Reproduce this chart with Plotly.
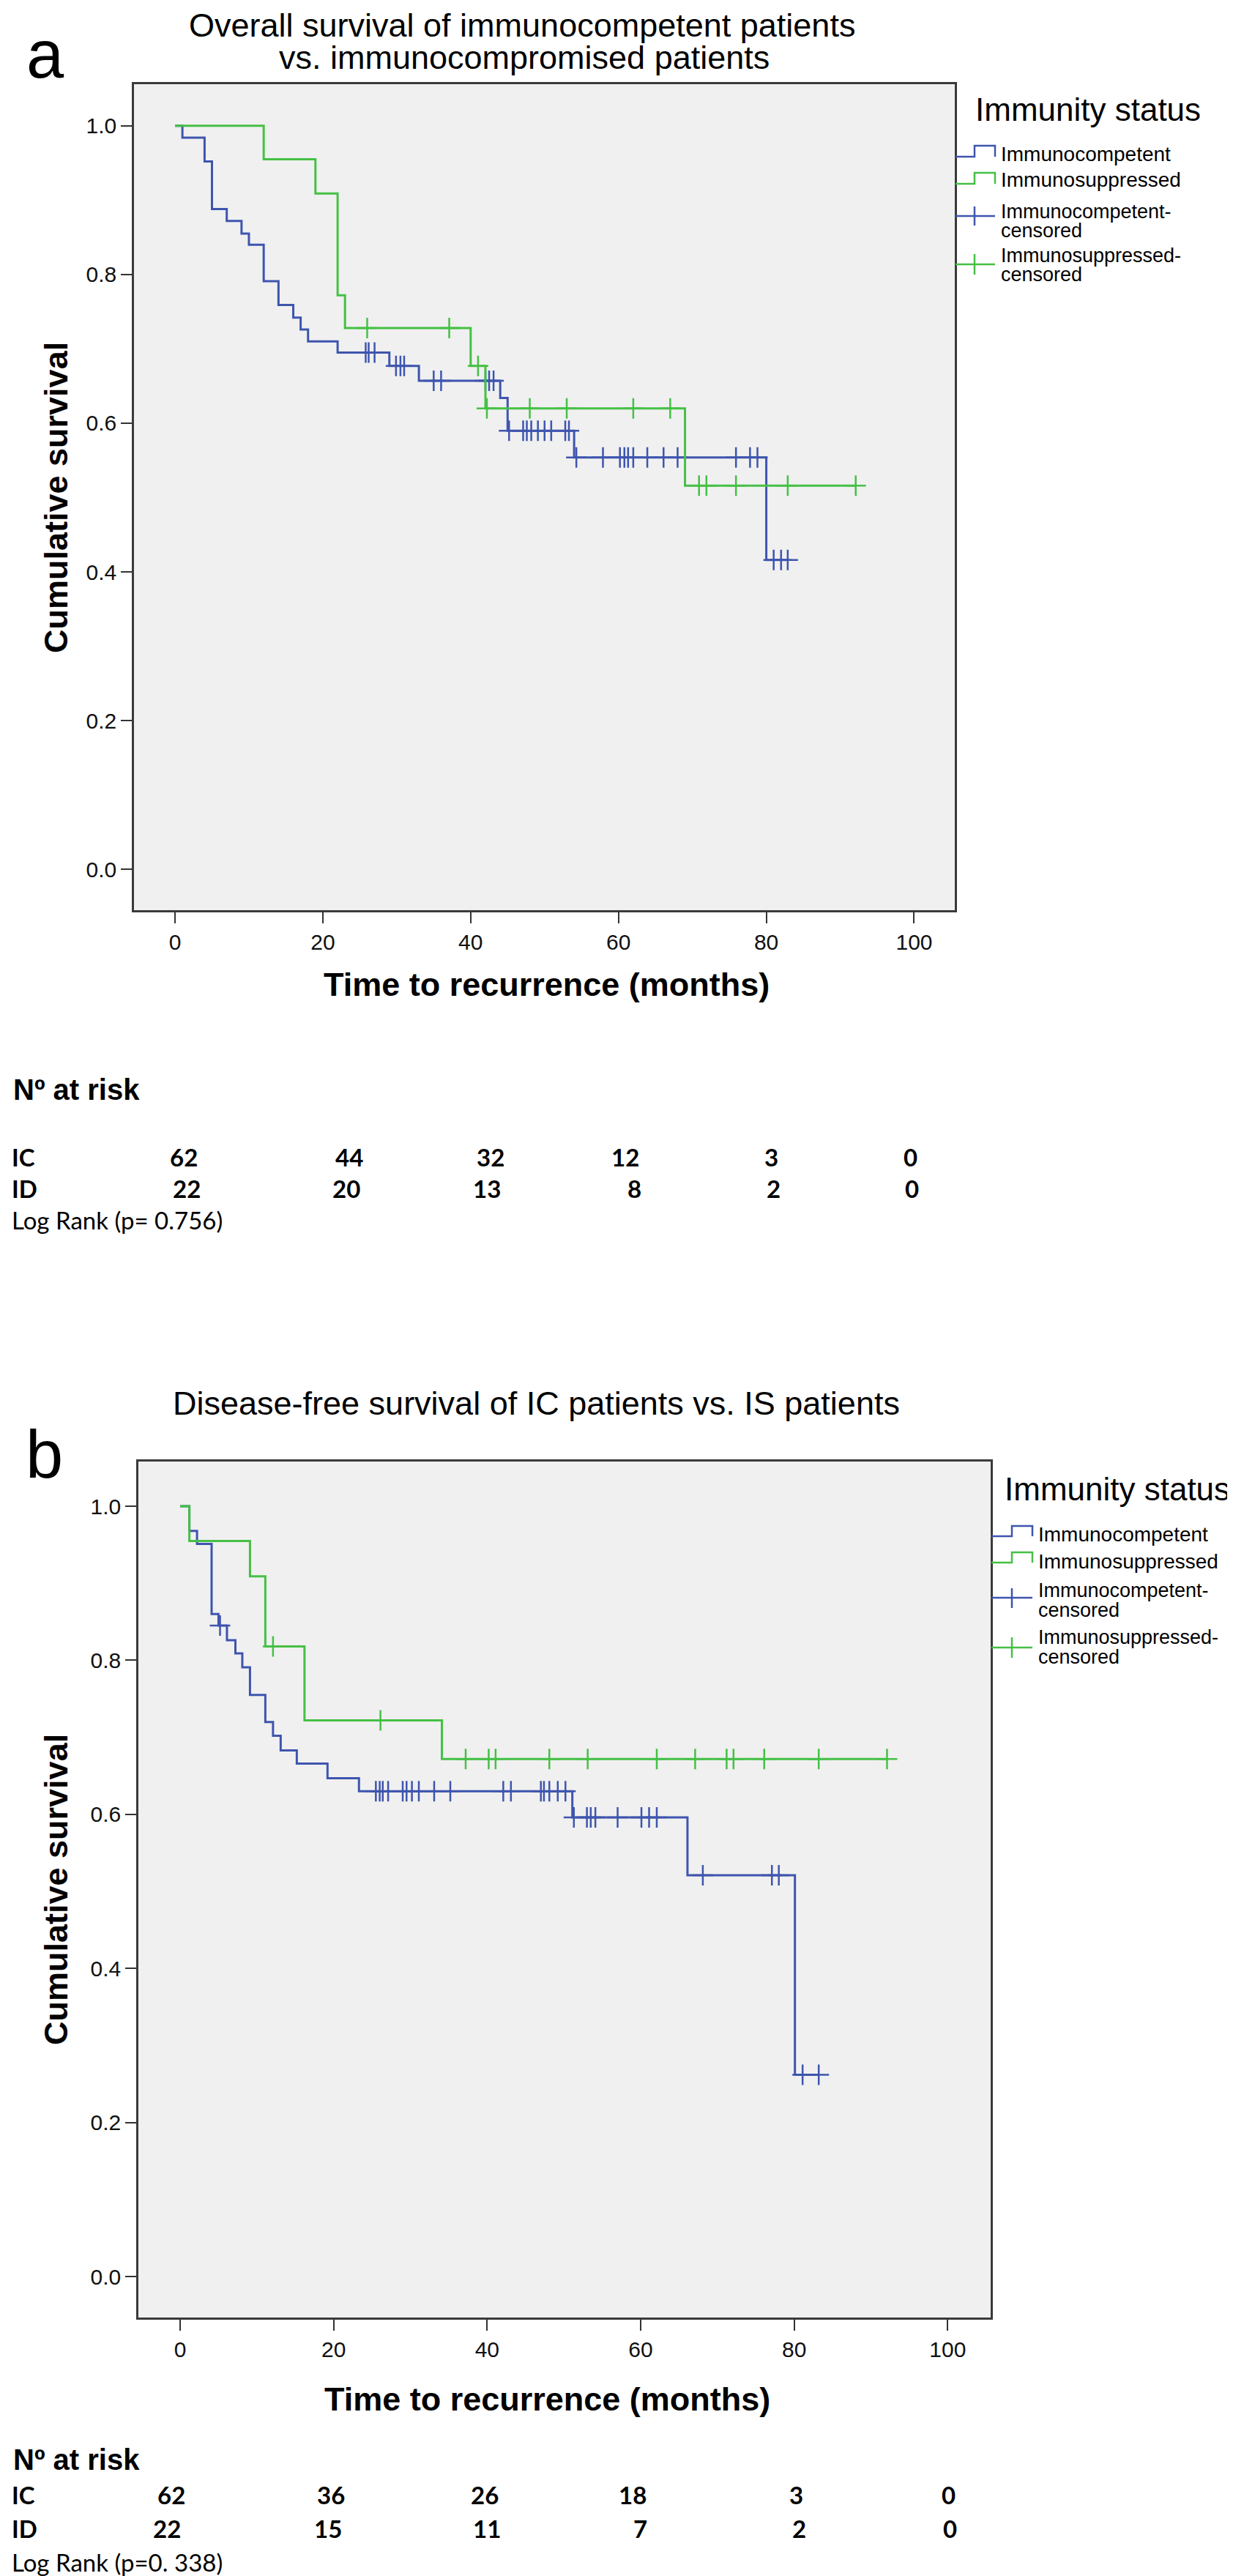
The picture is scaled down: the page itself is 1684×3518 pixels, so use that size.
import plotly.graph_objects as go

W, H = 1684, 3518

# ---------------- panel a : overall survival ----------------
a_ic_event_t = [1, 4, 5, 7, 9, 10, 12, 14, 16, 17, 18, 22, 29, 33, 44, 45, 54, 80]
a_ic_surv = [0.984, 0.952, 0.888, 0.872, 0.855, 0.840, 0.791, 0.759, 0.742, 0.726,
             0.710, 0.695, 0.677, 0.657, 0.634, 0.590, 0.554, 0.416]
a_ic_censor_t = [25.8, 26.2, 27.0, 29.9, 30.5, 31.0, 35.0, 36.0, 42.0, 42.5, 43.1,
                 45.2, 47.1, 47.6, 48.2, 49.1, 50.0, 50.9, 52.8, 53.3,
                 54.3, 57.9, 60.2, 60.8, 61.3, 62.0, 63.9, 66.1, 68.0, 75.9, 77.8, 78.8,
                 81.0, 82.0, 82.9]
a_is_event_t = [12, 19, 22, 23, 40, 42, 69]
a_is_surv = [0.955, 0.909, 0.772, 0.728, 0.677, 0.620, 0.516]
a_is_censor_t = [26.0, 37.1, 41.0, 42.2, 48.0, 53.0, 62.0, 67.0, 70.9, 71.9, 75.9, 82.9, 92.1]
a_risk_ic = [62, 44, 32, 12, 3, 0]
a_risk_id = [22, 20, 13, 8, 2, 0]
a_logrank = "Log Rank (p= 0.756)"

# ---------------- panel b : disease-free survival ----------------
b_ic_event_t = [1.2, 2.2, 4.1, 5.0, 6.1, 7.2, 8.1, 9.1, 11.1, 12.1, 13.1, 15.2, 19.2, 23.3,
                51.1, 66.1, 80.1]
b_ic_surv = [0.968, 0.951, 0.860, 0.845, 0.826, 0.809, 0.791, 0.755, 0.720, 0.702, 0.683,
             0.666, 0.647, 0.630, 0.596, 0.521, 0.262]
b_ic_censor_t = [5.2, 25.5, 26.0, 26.4, 27.1, 29.0, 29.5, 30.2, 31.1, 33.1, 35.2, 42.1, 43.1,
                 47.0, 47.4, 48.1, 49.2, 50.2, 51.3, 53.0, 53.5, 54.1, 57.0, 60.1, 61.1, 62.1,
                 68.1, 77.1, 78.0, 81.1, 83.2]
b_is_event_t = [1.2, 9.1, 11.1, 16.2, 34.1]
b_is_surv = [0.955, 0.909, 0.818, 0.722, 0.672]
b_is_censor_t = [12.1, 26.1, 37.2, 40.2, 41.1, 48.1, 53.1, 62.1, 67.1, 71.2, 72.1, 76.1,
                 83.2, 92.1]
b_risk_ic = [62, 36, 26, 18, 3, 0]
b_risk_id = [22, 15, 11, 7, 2, 0]
b_logrank = "Log Rank (p=0. 338)"

x_ticks = [0, 20, 40, 60, 80, 100]
y_ticks = [0.0, 0.2, 0.4, 0.6, 0.8, 1.0]
legend_labels = ["Immunocompetent", "Immunosuppressed",
                 ["Immunocompetent-", "censored"], ["Immunosuppressed-", "censored"]]

BLUE = "#3E55AE"
GREEN = "#45C045"
SANS = "Liberation Sans, Arial, sans-serif"
TABLE = "Lato, Open Sans, sans-serif"


def px(x):
    return x / W


def py(y):
    return 1 - y / H


def step_xy(event_t, surv, end_t):
    xs = [0] + list(event_t) + [end_t]
    ys = [1.0] + list(surv) + [surv[-1]]
    return xs, ys


def level_at(t, event_t, surv):
    # survival level of the step curve at time t (censor marks sit on the curve)
    s = 1.0
    for et, sv in zip(event_t, surv):
        if et <= t:
            s = sv
    return s


fig = go.Figure()
annotations = []
shapes = []


def ann(text, x, y, size, family=SANS, bold=False, xanchor="center", color="#000"):
    if bold:
        text = "<b>" + text + "</b>"
    annotations.append(dict(text=text, x=px(x), y=py(y), xref="paper", yref="paper",
                            xanchor=xanchor, yanchor="middle", showarrow=False,
                            font=dict(family=family, size=size, color=color)))


def add_curves(xa, ya, ev_t, surv, cens_t, color):
    end_t = max(cens_t + ev_t)
    xs, ys = step_xy(ev_t, surv, end_t)
    fig.add_trace(go.Scatter(x=xs, y=ys, mode="lines", line=dict(color=color, width=3, shape="hv"),
                             xaxis=xa, yaxis=ya, showlegend=False, hoverinfo="skip"))
    cy = [level_at(t, ev_t, surv) for t in cens_t]
    fig.add_trace(go.Scatter(x=cens_t, y=cy, mode="markers",
                             marker=dict(symbol="cross-thin", size=20, color=color,
                                         line=dict(color=color, width=2.5)),
                             xaxis=xa, yaxis=ya, showlegend=False, hoverinfo="skip"))


panels = [
    dict(frame=(175, 107, 1296, 1235), xr=[-5.55, 105.5], yr=[-0.055, 1.056],
         curves=[(a_ic_event_t, a_ic_surv, a_ic_censor_t, BLUE),
                 (a_is_event_t, a_is_surv, a_is_censor_t, GREEN)],
         letter=("a", 54, 66),
         titles=[("Overall survival of immunocompetent patients", 705, 26),
                 ("vs. immunocompromised patients", 708, 70)],
         ytitle=(68, 672), xtitle=(738, 1336),
         leg_title=(1322, 141), icon_x=(1297, 1323, 1351), text_x=1357,
         steps=[(206, 191, 202), (243, 228, 238)],
         cens=[(287, 274, 300, [281, 307]), (353, 339, 367, [341, 367])],
         risk_head=1480, risk_rows=[1572, 1615], log_y=1658,
         risk=[a_risk_ic, a_risk_id], logrank=a_logrank,
         risk_x=[[243, 469, 662, 846, 1045, 1235], [247, 465, 657, 858, 1048, 1237]]),
    dict(frame=(181, 1988, 1345, 3157), xr=[-5.44, 105.6], yr=[-0.053, 1.058],
         curves=[(b_ic_event_t, b_ic_surv, b_ic_censor_t, BLUE),
                 (b_is_event_t, b_is_surv, b_is_censor_t, GREEN)],
         letter=("b", 52, 1978),
         titles=[("Disease-free survival of IC patients vs. IS patients", 724, 1908)],
         ytitle=(68, 2573), xtitle=(739, 3268),
         leg_title=(1362, 2025), icon_x=(1346, 1374, 1402), text_x=1408,
         steps=[(2090, 2076, 2087), (2126, 2112, 2124)],
         cens=[(2174, 2161, 2188, [2164, 2191]), (2242, 2228, 2256, [2228, 2255])],
         risk_head=3351, risk_rows=[3399, 3445], log_y=3491,
         risk=[b_risk_ic, b_risk_id], logrank=b_logrank,
         risk_x=[[226, 444, 654, 856, 1079, 1287], [220, 440, 657, 866, 1083, 1289]]),
]

layout_axes = {}
for i, p in enumerate(panels):
    n = "" if i == 0 else str(i + 1)
    x0, y0, x1, y1 = p["frame"]
    axis_common = dict(showline=True, mirror=True, linecolor="#3a3a3a", linewidth=2.5,
                       ticks="outside", ticklen=15, tickwidth=2, tickcolor="#333",
                       showgrid=False, zeroline=False,
                       tickfont=dict(family=SANS, size=30, color="#111"))
    layout_axes["xaxis" + n] = dict(axis_common, domain=[px(x0), px(x1)], range=p["xr"],
                                    tickvals=x_ticks, anchor="y" + n)
    layout_axes["yaxis" + n] = dict(axis_common, domain=[py(y1), py(y0)], range=p["yr"],
                                    tickvals=y_ticks, tickformat=".1f", anchor="x" + n)
    for ev_t, surv, cens_t, color in p["curves"]:
        add_curves("x" + n, "y" + n, ev_t, surv, cens_t, color)

    # titles and labels
    ann(p["letter"][0], p["letter"][1], p["letter"][2], 92)
    for txt, tx, ty in p["titles"]:
        ann(txt, tx, ty, 45)
    annotations.append(dict(text="<b>Cumulative survival</b>", x=px(p["ytitle"][0]), y=py(p["ytitle"][1]),
                            xref="paper", yref="paper", textangle=-90, showarrow=False,
                            xanchor="center", yanchor="middle",
                            font=dict(family=SANS, size=45, color="#000")))
    ann("Time to recurrence (months)", p["xtitle"][0], p["xtitle"][1], 45, bold=True)

    # legend drawn SPSS style: step icons and censor crosses
    ann("Immunity status", p["leg_title"][0], p["leg_title"][1], 44, xanchor="left")
    ix0, ixm, ix1 = p["icon_x"]
    for (low, high, ty), color, label in zip(p["steps"], [BLUE, GREEN], legend_labels[:2]):
        path = "M {} {} L {} {} L {} {} L {} {} L {} {}".format(
            px(ix0), py(low), px(ixm), py(low), px(ixm), py(high), px(ix1), py(high), px(ix1), py(low))
        shapes.append(dict(type="path", path=path, xref="paper", yref="paper",
                           line=dict(color=color, width=2.5)))
        ann(label, p["text_x"], ty, 28, xanchor="left")
    for (ly, t0, t1, tys), color, label in zip(p["cens"], [BLUE, GREEN], legend_labels[2:]):
        shapes.append(dict(type="line", xref="paper", yref="paper", x0=px(ix0), x1=px(ix1),
                           y0=py(ly), y1=py(ly), line=dict(color=color, width=2.5)))
        shapes.append(dict(type="line", xref="paper", yref="paper", x0=px(ixm), x1=px(ixm),
                           y0=py(t0), y1=py(t1), line=dict(color=color, width=2.5)))
        for part, ty in zip(label, tys):
            ann(part, p["text_x"], ty, 27, xanchor="left")

    # number at risk table
    ann("N\u00ba at risk", 8, p["risk_head"], 40, bold=True, xanchor="left")
    for row_name, row_y, vals, xs in zip(["IC", "ID"], p["risk_rows"], p["risk"], p["risk_x"]):
        ann(row_name, 6, row_y, 33, family=TABLE, bold=True, xanchor="left")
        for v, vx in zip(vals, xs):
            ann(str(v), vx, row_y, 33, family=TABLE, bold=True)
    ann(p["logrank"], 6, p["log_y"], 33, family=TABLE, xanchor="left")

fig.update_layout(
    width=W, height=H,
    margin=dict(l=0, r=0, t=0, b=0),
    paper_bgcolor="white",
    plot_bgcolor="#F0F0F0",
    showlegend=False,
    annotations=annotations,
    shapes=shapes,
    **layout_axes,
)

fig.write_html("out.html")
